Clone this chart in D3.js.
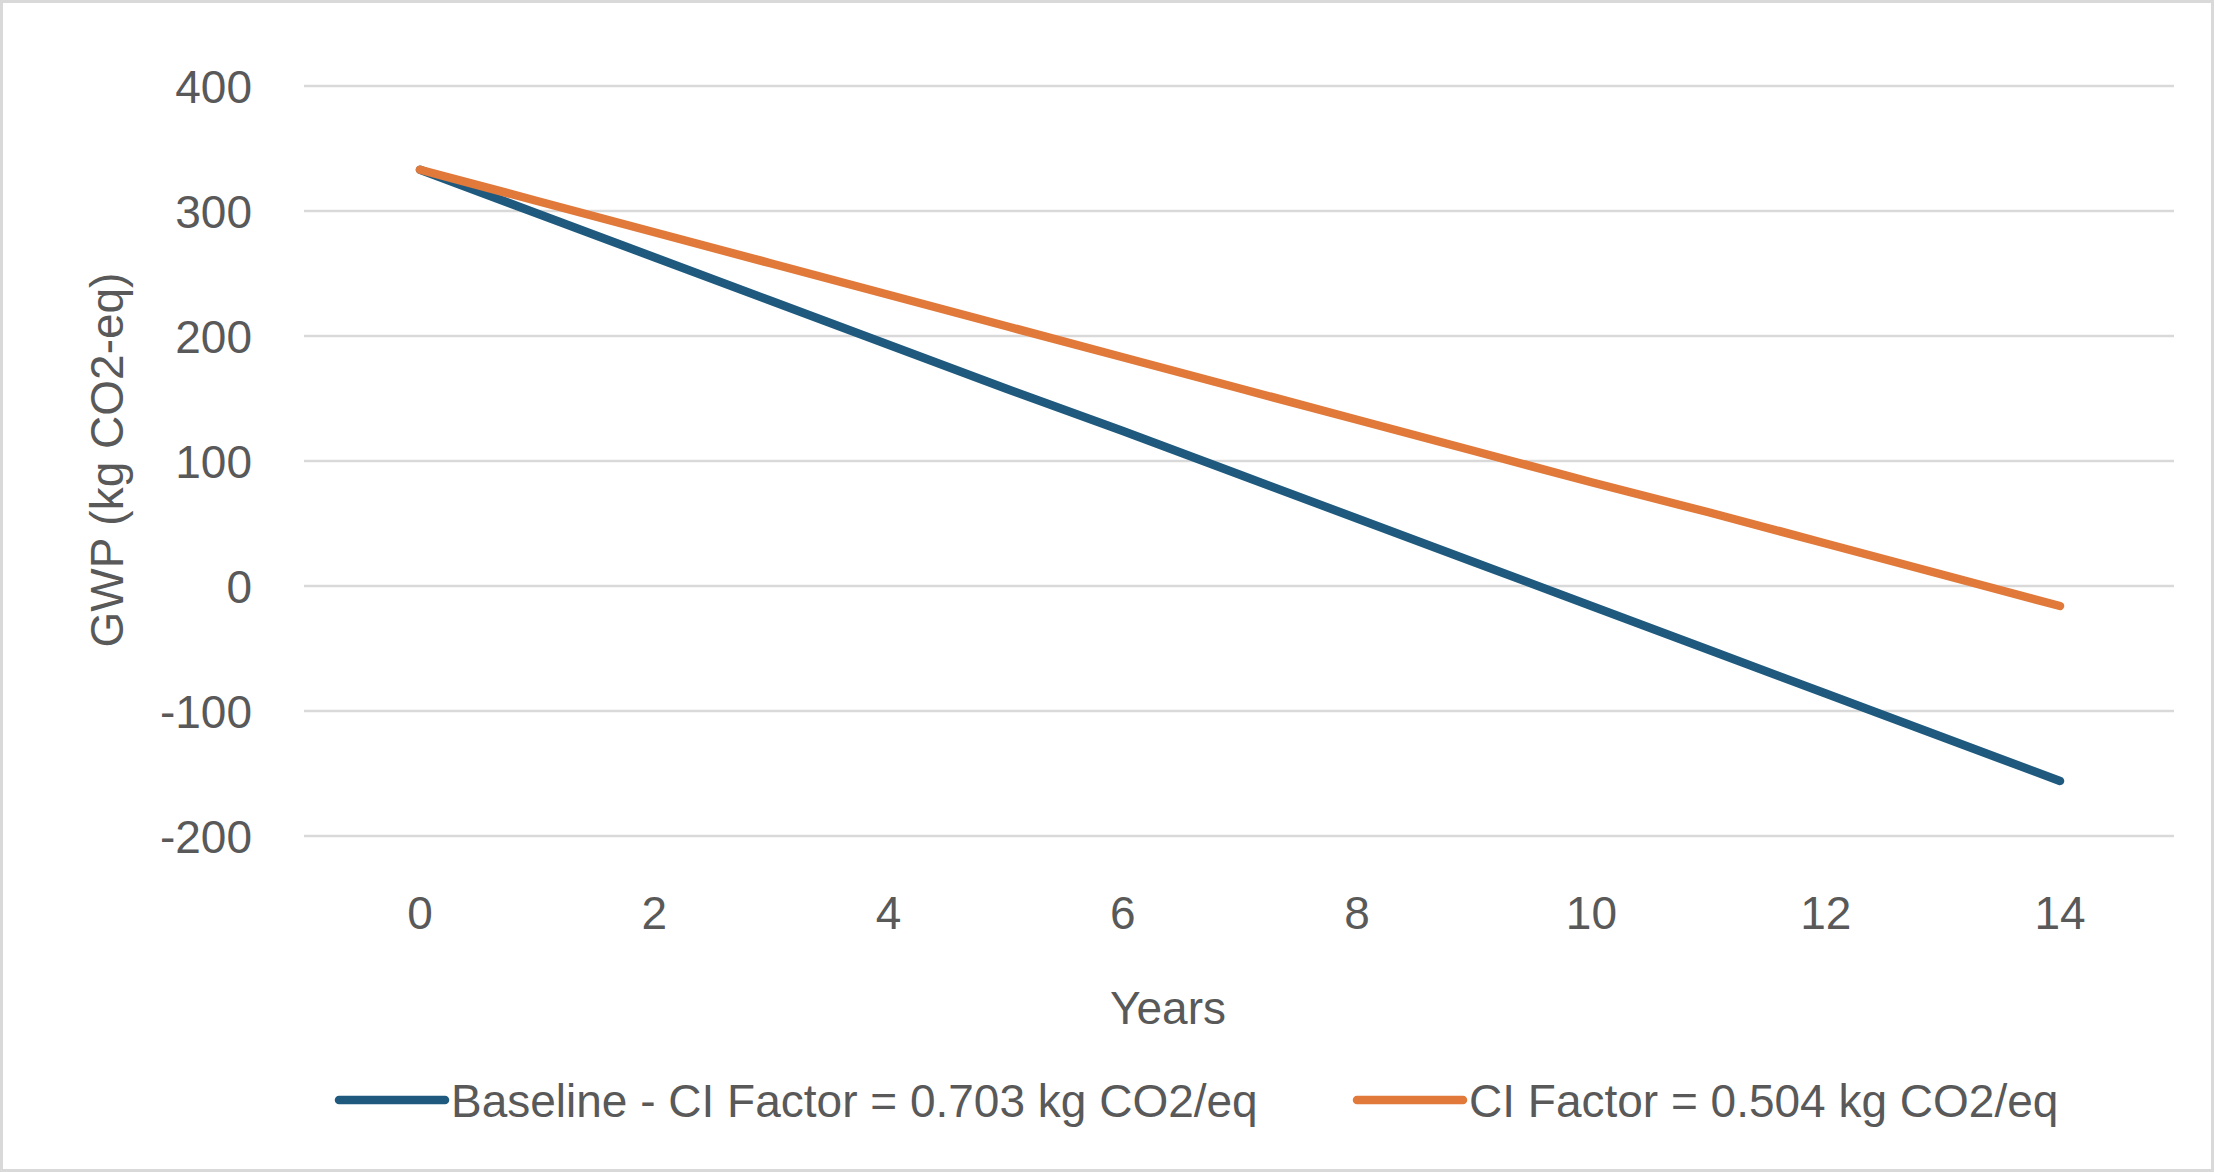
<!DOCTYPE html><html><head><meta charset="utf-8"><script src="https://cdn.jsdelivr.net/npm/d3@7"></script>
<style>body{margin:0;background:#fff}</style></head><body><svg id="c" width="2214" height="1172"></svg><script>
const years=[0,1,2,3,4,5,6,7,8,9,10,11,12,13,14];
const baseline=[333,298,263,228,193,158,124,89,54,19,-16,-51,-86,-121,-156];
const ci504=[333,308,283,258,233,208,183,158,133,108,83,59,34,9,-16];
const yTicks=[400,300,200,100,0,-100,-200];
const xTicks=[0,2,4,6,8,10,12,14];
const names=["Baseline - CI Factor = 0.703 kg CO2/eq","CI Factor = 0.504 kg CO2/eq"];
const colors=["#1f5a7e","#e0793a"];
const svg=d3.select("#c");
const F="'Liberation Sans',Arial,sans-serif",tc="#595959",FS=46;
svg.append("rect").attr("x",1.5).attr("y",1.5).attr("width",2211).attr("height",1169).attr("fill","#fff").attr("stroke","#d9d9d9").attr("stroke-width",3);
const x=d3.scaleLinear().domain([0,14]).range([420,2060]);
const y=d3.scaleLinear().domain([-200,400]).range([836,86]);
svg.append("g").selectAll("line").data(yTicks).join("line").attr("x1",304).attr("x2",2174).attr("y1",d=>y(d)).attr("y2",d=>y(d)).attr("stroke","#d9d9d9").attr("stroke-width",2.5);
svg.append("g").selectAll("text").data(yTicks).join("text").attr("x",252).attr("y",d=>y(d)).attr("dy","0.36em").attr("text-anchor","end").attr("font-family",F).attr("font-size",FS).attr("fill",tc).text(d=>d);
svg.append("g").selectAll("text").data(xTicks).join("text").attr("x",d=>x(d)).attr("y",912).attr("dy","0.36em").attr("text-anchor","middle").attr("font-family",F).attr("font-size",FS).attr("fill",tc).text(d=>d);
svg.append("text").attr("x",1168).attr("y",1007).attr("dy","0.36em").attr("text-anchor","middle").attr("font-family",F).attr("font-size",FS).attr("fill",tc).text("Years");
svg.append("text").attr("transform","translate(106,460) rotate(-90)").attr("dy","0.36em").attr("text-anchor","middle").attr("font-family",F).attr("font-size",FS).attr("fill",tc).text("GWP (kg CO2-eq)");
const line=d3.line().x((d,i)=>x(years[i])).y(d=>y(d));
[baseline,ci504].forEach((s,k)=>svg.append("path").datum(s).attr("d",line).attr("fill","none").attr("stroke",colors[k]).attr("stroke-width",8.5).attr("stroke-linecap","round"));
const lx=[339,1357];
names.forEach((n,k)=>{svg.append("line").attr("x1",lx[k]).attr("x2",lx[k]+106).attr("y1",1100).attr("y2",1100).attr("stroke",colors[k]).attr("stroke-width",8.5).attr("stroke-linecap","round");
svg.append("text").attr("x",lx[k]+112).attr("y",1100).attr("dy","0.36em").attr("font-family",F).attr("font-size",FS).attr("fill",tc).text(n);});
</script></body></html>
